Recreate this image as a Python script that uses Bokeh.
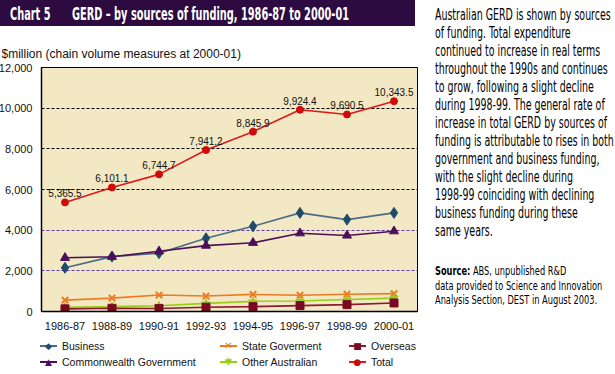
from bokeh.plotting import figure
from bokeh.models import (Range1d, FixedTicker, NumeralTickFormatter, Grid, Div)
from bokeh.layouts import row, column
from bokeh.core.properties import value
from bokeh.embed import file_html
from bokeh.resources import INLINE

# ---------------- data ----------------
years = ["1986-87", "1988-89", "1990-91", "1992-93", "1994-95", "1996-97", "1998-99", "2000-01"]
business = [2150, 2700, 2870, 3600, 4190, 4850, 4520, 4850]
commonwealth = [2640, 2690, 2960, 3240, 3380, 3850, 3740, 3950]
state_gov = [560, 660, 810, 760, 840, 800, 850, 880]
other_aus = [210, 240, 280, 400, 500, 520, 590, 660]
overseas = [130, 160, 150, 210, 240, 290, 340, 420]
total = [5365.5, 6101.1, 6744.7, 7941.2, 8845.9, 9924.4, 9690.5, 10343.5]
y_ticks = [0, 2000, 4000, 6000, 8000, 10000, 12000]
grid_dark = [6000, 8000, 10000]
grid_purple = [2000, 4000]

FONT = "Liberation Sans"
NARROW = "'Liberation Sans Narrow','DejaVu Sans Condensed','Liberation Sans',sans-serif"

# ---------------- title bar ----------------
span_style = (f"position:absolute;top:2px;font-family:{NARROW};font-weight:bold;font-size:17px;"
              "color:#ffffff;white-space:nowrap;transform:scaleX(0.64);transform-origin:0 0;")
title_div = Div(
    text=(
        '<div style="position:relative;width:415px;height:26px;overflow:hidden;">'
        f'<span style="left:10px;{span_style}">Chart 5</span>'
        f'<span style="left:72px;{span_style}">GERD – by sources of funding, 1986-87 to 2000-01</span>'
        '</div>'
    ),
    width=415, height=26,
    styles={"background-color": "#2d0b40"},
)

# ---------------- chart ----------------
p = figure(x_range=years, y_range=Range1d(0, 12000),
           frame_width=376, frame_height=244,
           output_backend="svg", toolbar_location=None,
           min_border_left=40, min_border_right=13, min_border_top=36, min_border_bottom=20,
           background_fill_color="#f2e8c4", border_fill_color="#ffffff",
           outline_line_color="#000000", outline_line_width=1)

p.title.text = "$million (chain volume measures at 2000-01)"
p.title.text_font = FONT
p.title.text_font_size = "12px"
p.title.text_font_style = "normal"
p.title.text_color = "#111111"
p.title.offset = -40
p.title.standoff = 14

p.yaxis.ticker = FixedTicker(ticks=y_ticks)
p.yaxis.formatter = NumeralTickFormatter(format="0,0")
p.yaxis.major_tick_line_color = None
p.yaxis.minor_tick_line_color = None
p.yaxis.major_label_standoff = 3
p.yaxis.major_label_text_font = FONT
p.yaxis.major_label_text_font_size = "11px"
p.yaxis.major_label_text_color = "#111111"
p.yaxis.axis_line_color = "#000000"
p.yaxis.axis_line_width = 1.5

p.xaxis.major_tick_line_color = None
p.xaxis.minor_tick_line_color = None
p.xaxis.major_label_standoff = 4
p.xaxis.major_label_text_font = FONT
p.xaxis.major_label_text_font_size = "11px"
p.xaxis.major_label_text_color = "#111111"
p.xaxis.axis_line_color = "#000000"
p.xaxis.axis_line_width = 1.5

p.xgrid.visible = False
p.ygrid.ticker = FixedTicker(ticks=grid_dark)
p.ygrid.grid_line_color = "#000000"
p.ygrid.grid_line_dash = "3 2"
p.ygrid.grid_line_width = 1
g2 = Grid(dimension=1, ticker=FixedTicker(ticks=grid_purple),
          grid_line_color="#5a3ca8", grid_line_dash="3 2", grid_line_width=1)
p.add_layout(g2)

# name, values, line colour, marker colour, bokeh marker, size, legend symbol
series = [
    ("Business", business, "#4d6b85", "#1f4a6a", "diamond", 11, "◆"),
    ("Commonwealth Government", commonwealth, "#4b0f5a", "#4b0f5a", "triangle", 9, "▲"),
    ("State Goverment", state_gov, "#ee7a22", "#ee7a22", "x", 9, "✕"),
    ("Other Australian", other_aus, "#9acd1a", "#9acd1a", "star", 9, "✱"),
    ("Overseas", overseas, "#8a1a30", "#7a0a22", "square", 8, "■"),
    ("Total", total, "#e01818", "#d00a0a", "circle", 7, "●"),
]

for name, vals, lc, mc, mk, sz, sym in series:
    p.line(years, vals, line_color=lc, line_width=1.6)
    p.scatter(years, vals, marker=mk, size=sz, fill_color=mc, line_color=mc,
              line_width=2 if mk == "x" else 1)

labels = [f"{v:,.1f}" for v in total]
p.text(x=years, y=total, text=labels, text_align="center", text_baseline="bottom",
       y_offset=-5, text_font=value(FONT), text_font_size="10px", text_color="#111111")

# ---------------- legend (3 columns x 2 rows, below the chart) ----------------
col_x = [40, 220, 349]
row_y = [2, 18]
leg_parts = ['<div style="position:relative;width:429px;height:34px;">']
for i, (name, vals, lc, mc, mk, sz, sym) in enumerate(series):
    cx, ry = col_x[i // 2], row_y[i % 2]
    sym_size = "9px" if sym in ("◆", "▲", "■", "●") else "10px"
    leg_parts.append(
        f'<div style="position:absolute;left:{cx}px;top:{ry}px;height:14px;white-space:nowrap;">'
        f'<span style="position:absolute;left:0;top:6px;width:17px;height:2px;background:{lc};"></span>'
        f'<span style="position:absolute;left:0;top:0;width:17px;line-height:14px;text-align:center;'
        f'font-family:\'DejaVu Sans\';font-size:{sym_size};color:{mc};">{sym}</span>'
        f'<span style="position:absolute;left:22px;top:0;line-height:14px;font-family:\'{FONT}\';'
        f'font-size:10.5px;color:#111111;">{name}</span></div>'
    )
leg_parts.append('</div>')
legend_div = Div(text="".join(leg_parts), width=429, height=34)

# ---------------- side text ----------------
main_lines = [
    "Australian GERD is shown by sources",
    "of funding. Total expenditure",
    "continued to increase in real terms",
    "throughout the 1990s and continues",
    "to grow, following a slight decline",
    "during 1998-99. The general rate of",
    "increase in total GERD by sources of",
    "funding is attributable to rises in both",
    "government and business funding,",
    "with the slight decline during",
    "1998-99 coinciding with declining",
    "business funding during these",
    "same years.",
]
source_lines = [
    "<b>Source:</b> ABS, unpublished R&amp;D",
    "data provided to Science and Innovation",
    "Analysis Section, DEST in August 2003.",
]
side_html = (
    f'<div style="position:relative;left:-4px;width:178px;padding-top:6px;font-family:{NARROW};font-size:15px;'
    'line-height:18px;color:#000000;white-space:nowrap;transform:scaleX(0.70);transform-origin:0 0;">'
    + "<br>".join(main_lines) +
    '</div>'
    f'<div style="position:relative;left:-4px;width:178px;margin-top:24px;font-family:{NARROW};font-size:13px;'
    'line-height:14.5px;color:#000000;white-space:nowrap;transform:scaleX(0.705);transform-origin:0 0;">'
    + "<br>".join(source_lines) +
    '</div>'
)
side_div = Div(text=side_html, width=180, height=340)

layout = row(column(title_div, p, legend_div), side_div, margin=(-5, -5, -5, -5))

open("out.html", "w").write(file_html(layout, INLINE))
